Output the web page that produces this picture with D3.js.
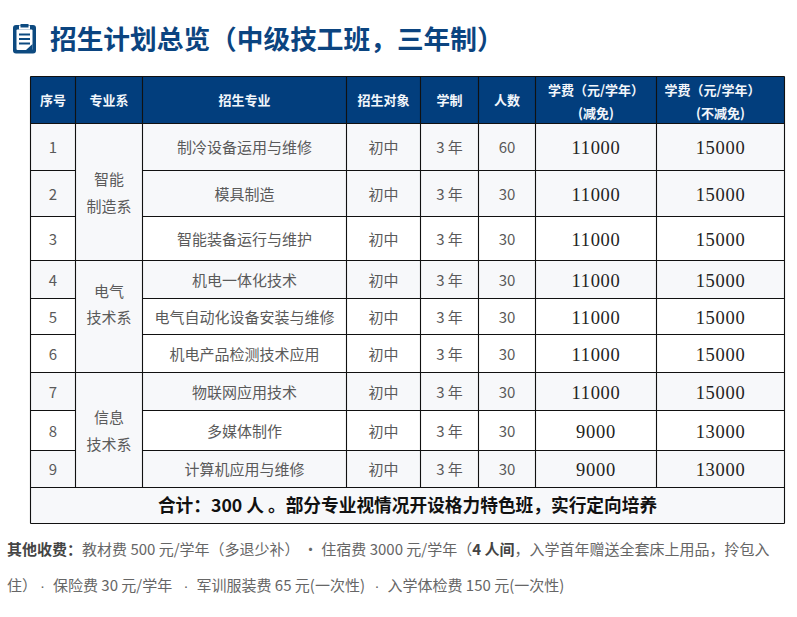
<!DOCTYPE html>
<html>
<head>
<meta charset="utf-8">
<script src="https://cdn.jsdelivr.net/npm/d3@7"></script>
<style>
  html, body { margin: 0; padding: 0; background: #fff; }
  svg { display: block; }
  text { font-family: "Noto Sans CJK SC", "Noto Sans", sans-serif; }
</style>
</head>
<body>
<script>
const titleText = '招生计划总览（中级技工班，三年制）'
const headers = ['序号', '专业系', '招生专业', '招生对象', '学制', '人数', '学费（元/学年）', '学费（元/学年）']
const headerSubs = ['', '', '', '', '', '', '(减免)', '(不减免)']
const rowIds = ['1', '2', '3', '4', '5', '6', '7', '8', '9']
const majors = ['制冷设备运用与维修', '模具制造', '智能装备运行与维护', '机电一体化技术', '电气自动化设备安装与维修', '机电产品检测技术应用', '物联网应用技术', '多媒体制作', '计算机应用与维修']
const targets = ['初中', '初中', '初中', '初中', '初中', '初中', '初中', '初中', '初中']
const durations = ['3 年', '3 年', '3 年', '3 年', '3 年', '3 年', '3 年', '3 年', '3 年']
const counts = [60, 30, 30, 30, 30, 30, 30, 30, 30]
const feeReduced = [11000, 11000, 11000, 11000, 11000, 11000, 11000, 9000, 9000]
const feeFull = [15000, 15000, 15000, 15000, 15000, 15000, 15000, 13000, 13000]
const deptNames = [['智能', '制造系'], ['电气', '技术系'], ['信息', '技术系']]
const deptRows = [[0, 3], [3, 6], [6, 9]]
const totalText = '合计：300 人 。部分专业视情况开设格力特色班，实行定向培养'
const noteLine2 = ['住）', '保险费 30 元/学年', '军训服装费 65 元(一次性)', '入学体检费 150 元(一次性)']

// layout
const colEdges = [30.5, 75.5, 142.5, 346.5, 420.5, 478.5, 535.5, 656.5, 784.5]
const rowEdges = [123.5, 170.5, 216.5, 260.5, 298.5, 334.5, 372.5, 410.5, 450.5, 487.5]
const tableTop = 76.5
const tableBottom = 523.5
const shadedRows = [0, 1, 3, 6, 8]
const deptShift = [1, -12, 1]
const headerShift = [0, 0, 0, 0, 0, 0, 0, -8]
const noteLine2X = [7, 53, 196.5, 387.5]

const navy = '#023e7d'
const grey = '#5a5a5a'
const shade = '#f7f8fa'

const svg = d3.select('body').append('svg')
  .attr('width', 797)
  .attr('height', 617)

const colX = d3.scaleLinear().domain(d3.range(colEdges.length)).range(colEdges)
const rowY = d3.scaleLinear().domain(d3.range(rowEdges.length)).range(rowEdges)
const colMid = i => (colX(i) + colX(i + 1)) / 2
const rowMid = i => (rowY(i) + rowY(i + 1)) / 2

// title icon
const icon = svg.append('g').attr('transform', 'translate(13,24)')
icon.append('rect').attr('y', 1).attr('width', 23).attr('height', 28.5).attr('rx', 3).attr('fill', '#0d4a80')
icon.append('rect').attr('x', 3.5).attr('y', 5.5).attr('width', 16).attr('height', 20.5).attr('rx', 1).attr('fill', '#fff')
icon.append('rect').attr('x', 6).attr('y', 1.5).attr('width', 11).attr('height', 4).attr('fill', '#fff')
icon.append('rect').attr('x', 7.5).attr('y', 0).attr('width', 8).attr('height', 3.5).attr('fill', '#0d4a80')
icon.selectAll('line.l').data([10.5, 15, 19.5]).join('line')
  .attr('x1', 6).attr('x2', 17).attr('y1', d => d).attr('y2', d => d)
  .attr('stroke', '#0d4a80').attr('stroke-width', 2)
icon.append('path').attr('d', 'M19.5 20L13 26L19.5 26Z').attr('fill', '#0d4a80')

svg.append('text')
  .attr('x', 50).attr('y', 49)
  .attr('font-size', 26.7).attr('font-weight', 700).attr('fill', '#0b4480')
  .text(titleText)

// backgrounds
svg.append('rect')
  .attr('x', colX(0)).attr('y', tableTop)
  .attr('width', colX(8) - colX(0)).attr('height', rowY(0) - tableTop)
  .attr('fill', navy)
svg.selectAll('rect.stripe').data(shadedRows).join('rect')
  .attr('class', 'stripe')
  .attr('x', colX(0)).attr('y', d => rowY(d))
  .attr('width', colX(8) - colX(0)).attr('height', d => rowY(d + 1) - rowY(d))
  .attr('fill', shade)
svg.append('rect')
  .attr('x', colX(1)).attr('y', rowY(0))
  .attr('width', colX(2) - colX(1)).attr('height', rowY(9) - rowY(0))
  .attr('fill', shade)
svg.append('rect')
  .attr('x', colX(0)).attr('y', rowY(9))
  .attr('width', colX(8) - colX(0)).attr('height', tableBottom - rowY(9))
  .attr('fill', shade)

// grid
const grid = svg.append('g').attr('stroke', '#111').attr('stroke-width', 1.1)
const vline = (x, y1, y2) => grid.append('line').attr('x1', x).attr('x2', x).attr('y1', y1).attr('y2', y2)
const hline = (y, x1, x2) => grid.append('line').attr('x1', x1).attr('x2', x2).attr('y1', y).attr('y2', y)

colEdges.forEach((d, i) => {
  const inner = i > 0 && i < colEdges.length - 1
  vline(d, tableTop, inner ? rowY(9) : tableBottom)
})
hline(tableTop, colX(0), colX(8))
hline(tableBottom, colX(0), colX(8))
rowEdges.forEach((d, i) => {
  // the department column is merged across its rows
  const merged = deptRows.some(r => i > r[0] && i < r[1])
  if (merged) {
    hline(d, colX(0), colX(1))
    hline(d, colX(2), colX(8))
  } else {
    hline(d, colX(0), colX(8))
  }
})

// header
const head = svg.append('g').attr('fill', '#f2f6fb').attr('font-weight', 700).attr('text-anchor', 'middle').attr('font-size', 13)
headers.forEach((d, i) => {
  const two = headerSubs[i] !== ''
  head.append('text').attr('x', colMid(i) + headerShift[i]).attr('y', two ? 95 : 105).text(d)
  if (two) head.append('text').attr('x', colMid(i)).attr('y', 118).text(headerSubs[i])
})

// body cells
const columns = [
  { col: 0, values: rowIds },
  { col: 2, values: majors },
  { col: 3, values: targets },
  { col: 4, values: durations },
  { col: 5, values: counts }
]
const body = svg.append('g').attr('text-anchor', 'middle')
columns.forEach(c => {
  body.append('g').selectAll('text').data(c.values).join('text')
    .attr('x', colMid(c.col))
    .attr('y', (d, i) => rowMid(i) + 0.7)
    .attr('dy', '0.36em')
    .attr('font-size', 15)
    .attr('fill', grey)
    .text(d => d)
})
;[[6, feeReduced], [7, feeFull]].forEach(([col, values]) => {
  body.append('g').selectAll('text').data(values).join('text')
    .attr('x', colMid(col))
    .attr('y', (d, i) => rowMid(i) + 1)
    .attr('dy', '0.34em')
    .attr('font-size', 18.5)
    .attr('letter-spacing', 0.7)
    .attr('fill', '#222')
    .style('font-family', '"Liberation Serif", serif')
    .text(d => d)
})

// departments
deptNames.forEach((lines, i) => {
  const mid = (rowY(deptRows[i][0]) + rowY(deptRows[i][1])) / 2 + deptShift[i]
  lines.forEach((line, j) => {
    body.append('text')
      .attr('x', colMid(1))
      .attr('y', mid + (j - 0.5) * 26.5)
      .attr('dy', '0.36em')
      .attr('font-size', 15)
      .attr('fill', grey)
      .text(line)
  })
})

// total row
svg.append('text')
  .attr('x', (colX(0) + colX(8)) / 2).attr('y', (rowY(9) + tableBottom) / 2)
  .attr('dy', '0.36em')
  .attr('text-anchor', 'middle')
  .attr('font-size', 17.7).attr('font-weight', 700).attr('fill', '#111')
  .text(totalText)

// footnote
const note1 = svg.append('text').attr('x', 7).attr('y', 555).attr('font-size', 15).attr('fill', '#666')
note1.append('tspan').attr('font-weight', 700).attr('fill', '#444').text('其他收费：')
note1.append('tspan').text('教材费 500 元/学年（多退少补） · 住宿费 3000 元/学年（')
note1.append('tspan').attr('font-weight', 700).attr('fill', '#444').text('4 人间')
note1.append('tspan').text('，入学首年赠送全套床上用品，拎包入')

const note2 = svg.append('g').attr('font-size', 15).attr('fill', '#666')
noteLine2.forEach((d, i) => {
  note2.append('text').attr('x', noteLine2X[i]).attr('y', 591).text(d)
  if (i > 0) {
    note2.append('text')
      .attr('x', noteLine2X[i] - 10.5).attr('y', 591)
      .attr('text-anchor', 'middle')
      .style('font-family', '"Liberation Sans", sans-serif')
      .text('·')
  }
})
</script>
</body>
</html>
